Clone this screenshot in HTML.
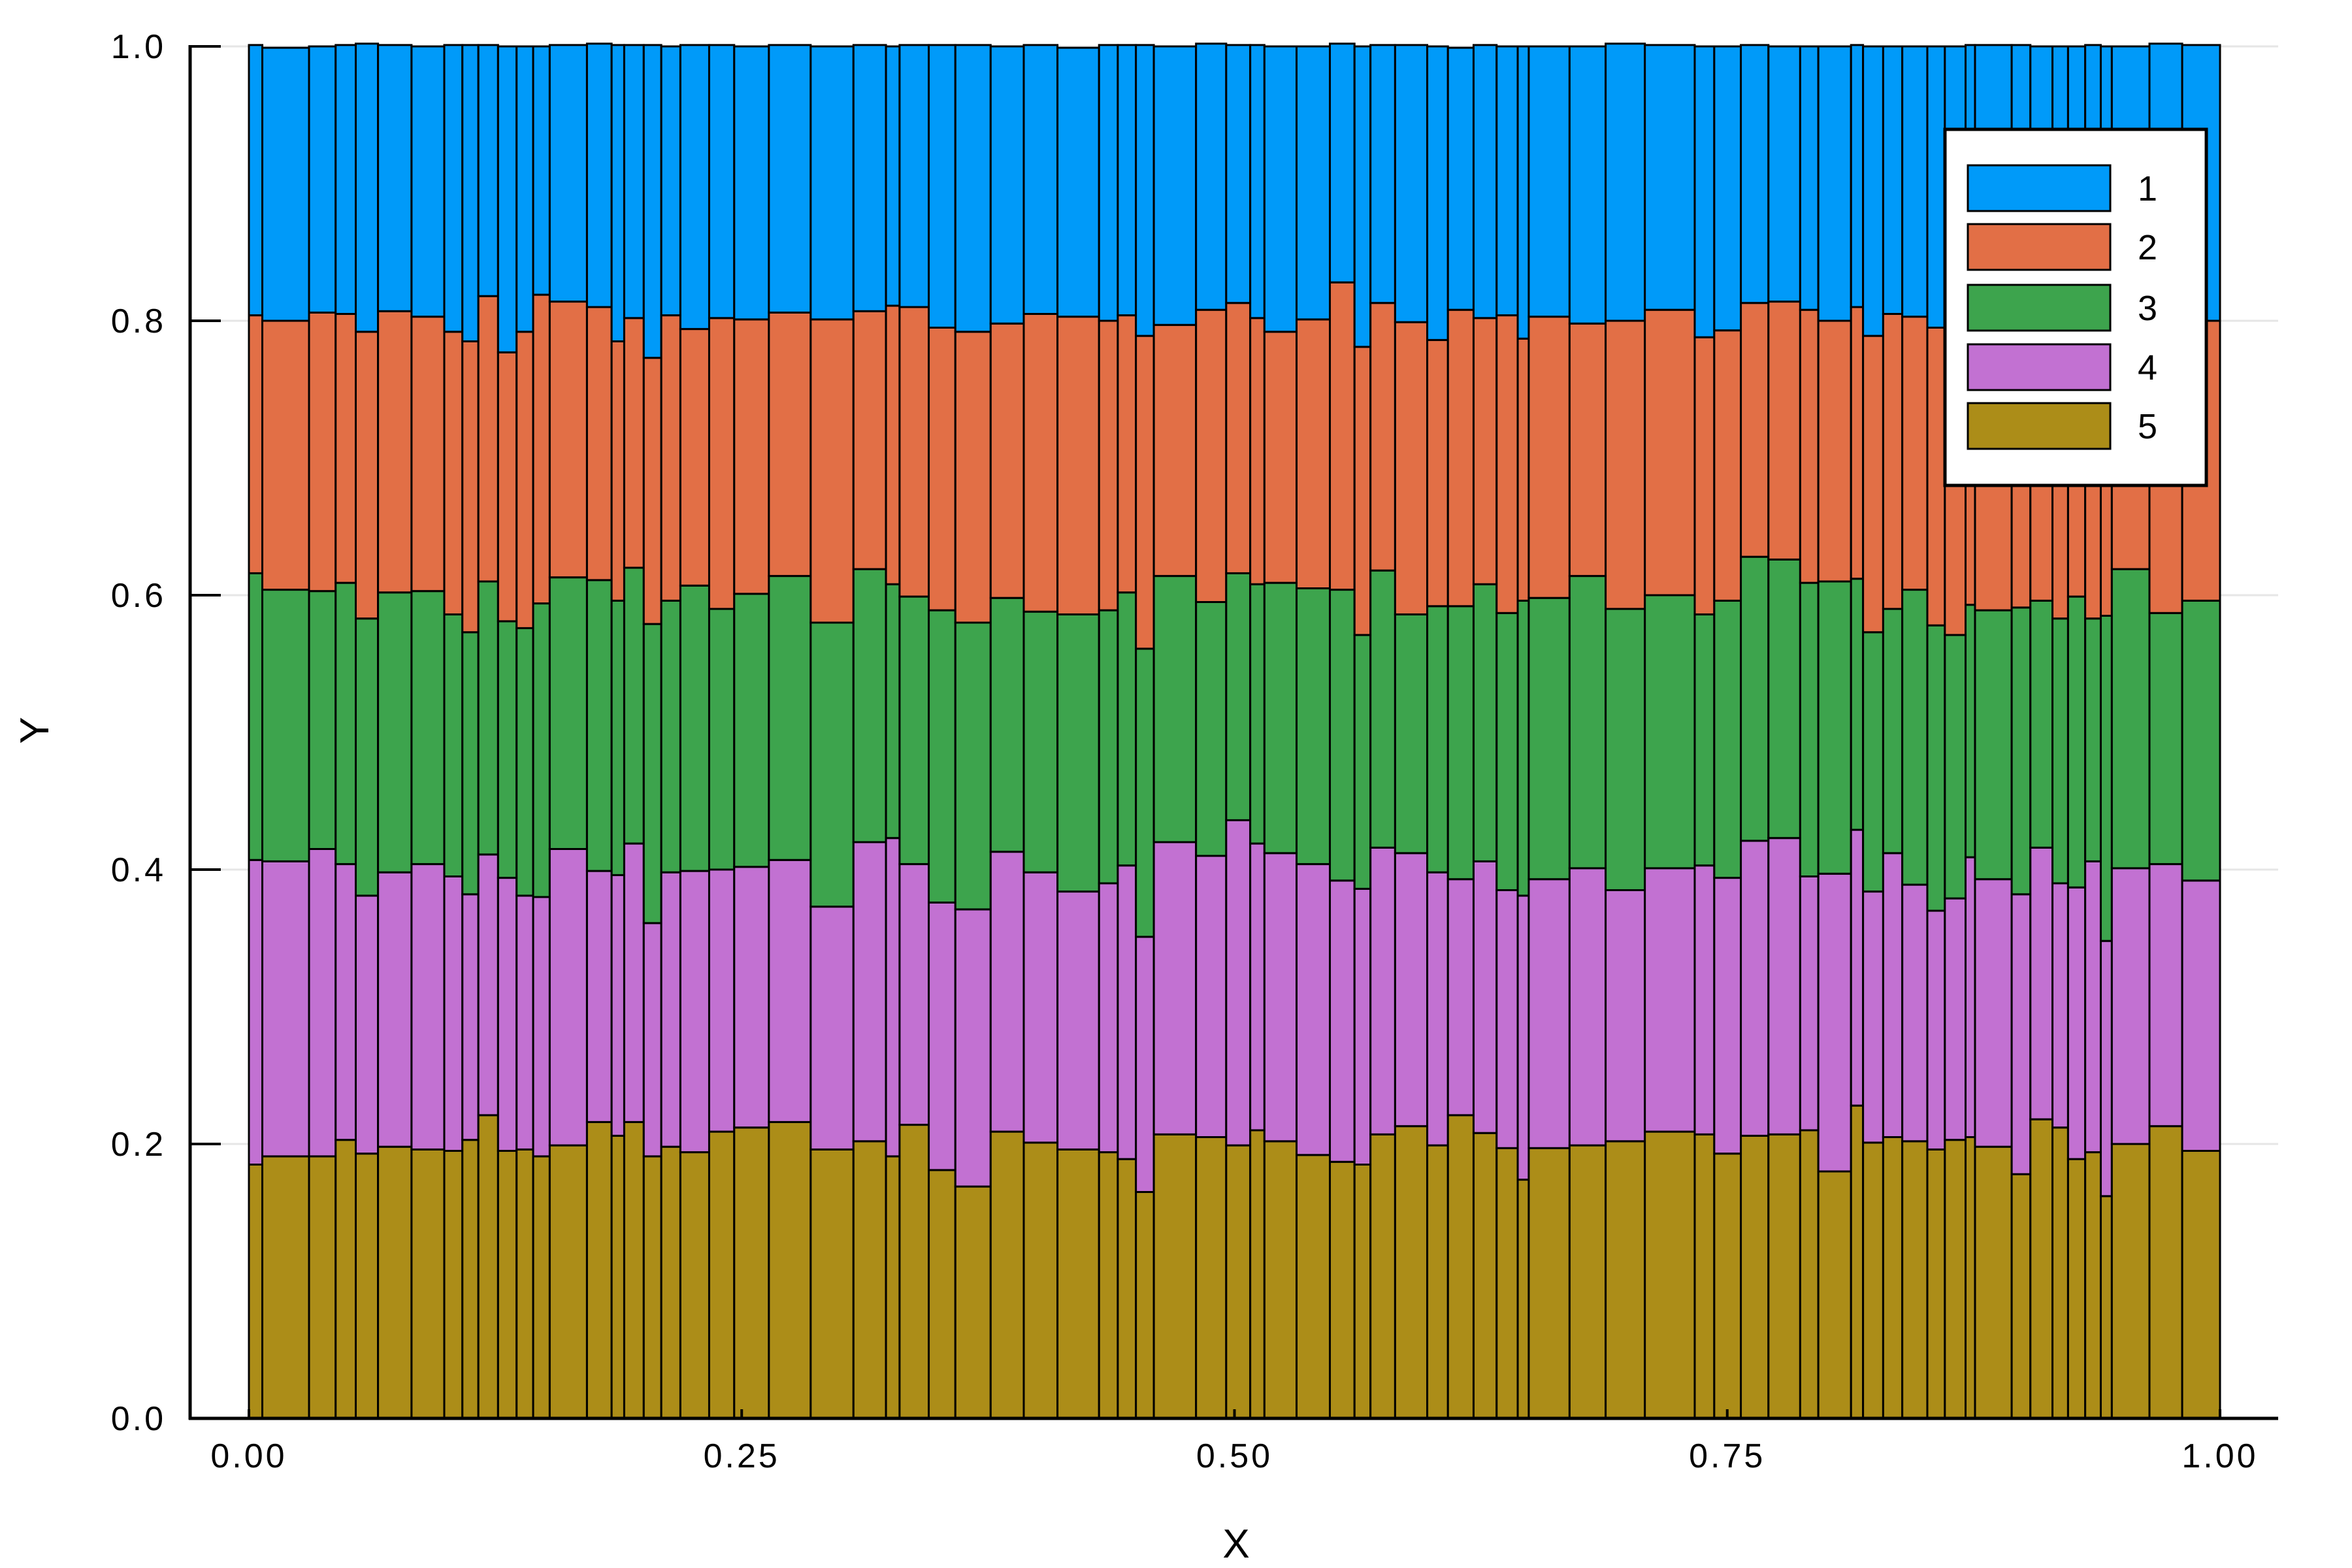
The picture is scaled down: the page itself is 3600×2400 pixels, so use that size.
<!DOCTYPE html>
<html><head><meta charset="utf-8"><style>
html,body{margin:0;padding:0;background:#fff;}
svg{display:block;}
text{font-family:"Liberation Sans",sans-serif;fill:#000;}
</style></head><body>
<svg id="chart" width="3600" height="2400" viewBox="0 0 3600 2400" xmlns="http://www.w3.org/2000/svg">
<rect x="0" y="0" width="3600" height="2400" fill="#fff"/>
<g id="grid"></g>
<g id="bars"></g>
<g id="axes"></g>
<g id="legend"></g>
</svg>
<script>
const xEdges=[0,0.0068,0.0305,0.0440,0.0542,0.0655,0.0825,0.0991,0.1083,0.1164,0.1264,0.1358,0.1442,0.1526,0.1715,0.1840,0.1904,0.2003,0.2092,0.2189,0.2335,0.2462,0.2638,0.2850,0.3067,0.3232,0.3301,0.3449,0.3584,0.3763,0.3931,0.4102,0.4313,0.4408,0.4500,0.4591,0.4805,0.4958,0.5080,0.5152,0.5315,0.5484,0.5609,0.5690,0.5815,0.5978,0.6083,0.6213,0.6330,0.6437,0.6493,0.6700,0.6883,0.7082,0.7335,0.7434,0.7569,0.7709,0.7870,0.7962,0.8128,0.8189,0.8291,0.8388,0.8515,0.8604,0.8709,0.8757,0.8943,0.9038,0.9150,0.9229,0.9316,0.9395,0.9451,0.9642,0.9808,1.0];
const s5=[0.185,0.191,0.191,0.203,0.193,0.198,0.196,0.195,0.203,0.221,0.195,0.196,0.191,0.199,0.216,0.206,0.216,0.191,0.198,0.194,0.209,0.212,0.216,0.196,0.202,0.191,0.214,0.181,0.169,0.209,0.201,0.196,0.194,0.189,0.165,0.207,0.205,0.199,0.210,0.202,0.192,0.187,0.185,0.207,0.213,0.199,0.221,0.208,0.197,0.174,0.197,0.199,0.202,0.209,0.207,0.193,0.206,0.207,0.210,0.180,0.228,0.201,0.205,0.202,0.196,0.203,0.205,0.198,0.178,0.218,0.212,0.189,0.194,0.162,0.200,0.213,0.195];
const s4=[0.222,0.215,0.224,0.201,0.188,0.200,0.208,0.200,0.179,0.190,0.199,0.185,0.189,0.216,0.183,0.190,0.203,0.170,0.200,0.205,0.191,0.190,0.191,0.177,0.218,0.232,0.190,0.195,0.202,0.204,0.197,0.188,0.196,0.214,0.186,0.213,0.205,0.237,0.209,0.210,0.212,0.205,0.201,0.209,0.199,0.199,0.172,0.198,0.188,0.207,0.196,0.202,0.183,0.192,0.196,0.201,0.215,0.216,0.185,0.217,0.201,0.183,0.207,0.187,0.174,0.176,0.204,0.195,0.204,0.198,0.178,0.198,0.212,0.186,0.201,0.191,0.197];
const s3=[0.209,0.198,0.188,0.205,0.202,0.204,0.199,0.191,0.191,0.199,0.187,0.195,0.214,0.198,0.212,0.200,0.201,0.218,0.198,0.208,0.190,0.199,0.207,0.207,0.199,0.185,0.195,0.213,0.209,0.185,0.190,0.202,0.199,0.199,0.210,0.194,0.185,0.180,0.189,0.197,0.201,0.212,0.185,0.202,0.174,0.194,0.199,0.202,0.202,0.215,0.205,0.213,0.205,0.199,0.183,0.202,0.207,0.203,0.214,0.213,0.183,0.189,0.178,0.215,0.208,0.192,0.184,0.196,0.209,0.180,0.193,0.212,0.177,0.237,0.218,0.183,0.204];
const s2=[0.188,0.196,0.203,0.196,0.209,0.205,0.200,0.206,0.212,0.208,0.196,0.216,0.225,0.201,0.199,0.189,0.182,0.194,0.208,0.187,0.212,0.200,0.192,0.221,0.188,0.203,0.211,0.206,0.212,0.200,0.217,0.217,0.211,0.202,0.228,0.183,0.213,0.197,0.194,0.183,0.196,0.224,0.210,0.195,0.213,0.194,0.216,0.194,0.217,0.191,0.205,0.184,0.210,0.208,0.202,0.197,0.185,0.188,0.199,0.190,0.198,0.216,0.215,0.199,0.217,0.230,0.218,0.217,0.205,0.218,0.216,0.208,0.210,0.218,0.189,0.213,0.204];
const s1=[0.197,0.199,0.194,0.196,0.210,0.194,0.197,0.209,0.216,0.183,0.223,0.208,0.181,0.187,0.192,0.216,0.199,0.228,0.196,0.207,0.199,0.199,0.195,0.199,0.194,0.189,0.191,0.206,0.209,0.202,0.196,0.196,0.201,0.197,0.212,0.203,0.194,0.188,0.199,0.208,0.199,0.174,0.219,0.188,0.202,0.214,0.191,0.199,0.196,0.213,0.197,0.202,0.202,0.193,0.212,0.207,0.188,0.186,0.192,0.200,0.191,0.211,0.195,0.197,0.205,0.199,0.190,0.195,0.205,0.186,0.201,0.193,0.208,0.197,0.192,0.202,0.201];
const seriesNames=["1","2","3","4","5"];
const seriesColors=["#009af9","#e26f46","#3da44d","#c271d2","#ac8d18"];
const yTicks=[0,0.2,0.4,0.6,0.8,1.0];
const yTickLabels=["0.0","0.2","0.4","0.6","0.8","1.0"];
const xTicks=[0,0.25,0.5,0.75,1.0];
const xTickLabels=["0.00","0.25","0.50","0.75","1.00"];

const NS="http://www.w3.org/2000/svg";
const X0=381,X1=3398,Y0=2171,Y1=71,AXL=291,AXR=3487;
function sx(v){return X0+v*(X1-X0);}
function sy(v){return Y0-v*(Y0-Y1);}
function mk(tag,attrs,parent){const e=document.createElementNS(NS,tag);for(const k in attrs)e.setAttribute(k,attrs[k]);parent.appendChild(e);return e;}

const grid=document.getElementById('grid');
yTicks.forEach((t,i)=>{
  const l=mk('line',{x1:AXL,x2:AXR,y1:sy(t),y2:sy(t),stroke:'#e6e6e6','stroke-width':3},grid);
  
  
});

const bars=document.getElementById('bars');
const stackOrder=[s5,s4,s3,s2,s1];
const colorOrder=[4,3,2,1,0];
for(let i=0;i<xEdges.length-1;i++){
  let base=0;
  stackOrder.forEach((arr,k)=>{
    const v=arr[i];
    const top=base+v;
    const r=mk('rect',{x:sx(xEdges[i]),y:sy(top),width:sx(xEdges[i+1])-sx(xEdges[i]),height:sy(base)-sy(top),fill:seriesColors[colorOrder[k]],stroke:'#000','stroke-width':3},bars);
    
    
    base=top;
  });
}

const axes=document.getElementById('axes');
let a=mk('line',{x1:AXL,x2:AXL,y1:Y1-2,y2:Y0+2,stroke:'#000','stroke-width':5},axes);


a=mk('line',{x1:AXL-2,x2:AXR,y1:Y0,y2:Y0,stroke:'#000','stroke-width':5},axes);


yTicks.forEach((t,i)=>{
  const tk=mk('line',{x1:AXL,x2:AXL+47,y1:sy(t),y2:sy(t),stroke:'#000','stroke-width':4},axes);
  
  
  const tx=mk('text',{x:254,y:sy(t)+18,'text-anchor':'end','font-size':52,'letter-spacing':4},axes);
  tx.textContent=yTickLabels[i];
  
  
});
xTicks.forEach((t,i)=>{
  const tk=mk('line',{x1:sx(t),x2:sx(t),y1:Y0,y2:Y0-14,stroke:'#000','stroke-width':4},axes);
  
  
  const tx=mk('text',{x:sx(t),y:2246,'text-anchor':'middle','font-size':52,'letter-spacing':4},axes);
  tx.textContent=xTickLabels[i];
  
  
});
let lab=mk('text',{x:1892,y:2384,'text-anchor':'middle','font-size':62},axes);
lab.textContent='X';


lab=mk('text',{x:0,y:0,'text-anchor':'middle','font-size':62,transform:'translate(74,1118) rotate(-90)'},axes);
lab.textContent='Y';



const legend=document.getElementById('legend');
let lb=mk('rect',{x:2977,y:198,width:400,height:545,fill:'#fff',stroke:'#000','stroke-width':5},legend);


const rowY=[288,378,471,562,652];
seriesNames.forEach((n,i)=>{
  const g=mk('g',{},legend);
  
  
  const p=mk('rect',{x:3012,y:rowY[i]-35,width:218,height:70,fill:seriesColors[i],stroke:'#000','stroke-width':3},g);
  
  
  const t=mk('text',{x:3287,y:rowY[i]+19,'text-anchor':'middle','font-size':54},g);
  t.textContent=n;
  
  
});
</script>
</body></html>
